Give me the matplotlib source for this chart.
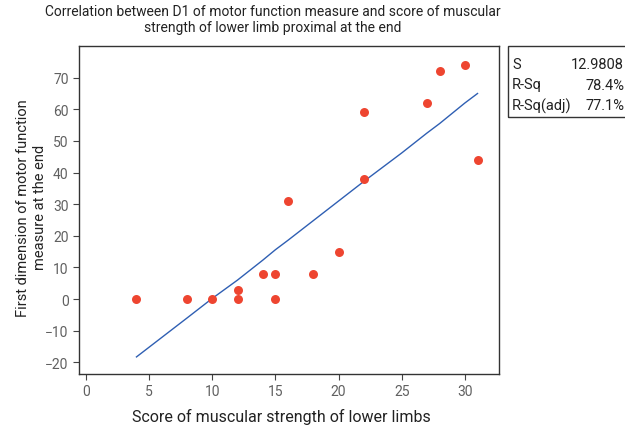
import matplotlib.pyplot as plt
from matplotlib.patches import Rectangle

plt.rcParams['font.family'] = ['Roboto', 'DejaVu Sans']

# observed scores
strength = [4, 8, 10, 12, 12, 14, 15, 15, 16, 18, 20, 22, 22, 27, 28, 30, 31]
d1_end = [0, 0, 0, 3, 0, 8, 8, 0, 31, 8, 15, 59, 38, 62, 72, 74, 44]

# fitted line
fit_x = [4, 8, 10, 12, 14, 15, 16, 18, 20, 22, 25, 27, 28, 30, 31]
fit_y = [-18.3, -6.0, 0.2, 6.0, 12.3, 15.6, 18.6, 24.8, 31.0, 37.2, 46.2, 52.5, 55.5, 62.0, 65.0]

stat_names = ['S', 'R-Sq', 'R-Sq(adj)']
stat_values = ['12.9808', '78.4%', '77.1%']

fig = plt.figure(figsize=(6.25, 4.27), dpi=100)
ax = fig.add_axes([0.1264, 0.1218, 0.672, 0.768])

ax.plot(fit_x, fit_y, color='#2f5fb3', lw=1.0, zorder=2)
ax.scatter(strength, d1_end, s=42, color='#ee4530', zorder=3, linewidths=0)

ax.set_xlim(-0.55, 32.7)
ax.set_ylim(-23.7, 80)
ax.set_xticks(range(0, 31, 5))
ax.set_yticks(range(-20, 71, 10))
ax.tick_params(colors='#444444', labelcolor='#606060', labelsize=10, length=4, width=0.8)
for sp in ax.spines.values():
    sp.set_color('#333333')
    sp.set_linewidth(1.0)

ax.set_xlabel('Score of muscular strength of lower limbs', fontsize=11.5, color='#222222')
ax.xaxis.set_label_coords(0.483, -0.105)
ax.set_ylabel('First dimension of motor function\nmeasure at the end', fontsize=10.5, color='#222222',
              linespacing=1.25)
ax.yaxis.set_label_coords(-0.076, 0.51)
fig.text(0.436, 0.988, 'Correlation between D1 of motor function measure and score of muscular\nstrength of lower limb proximal at the end',
         ha='center', va='top', fontsize=10, color='#222222', linespacing=1.15)

# stats box
fig.patches.append(Rectangle((508 / 625, 1 - 118 / 427), 0.2, 71 / 427, transform=fig.transFigure,
                             fill=False, edgecolor='#333333', lw=1.0))
for i, (n, v) in enumerate(zip(stat_names, stat_values)):
    y = 1 - (65 + i * 20.5) / 427
    fig.text(512 / 625, y, n, fontsize=10.5, color='#222222', va='center')
    fig.text(624 / 625, y, v, fontsize=10.5, color='#222222', va='center', ha='right')

fig.savefig('out.png', dpi=100)
